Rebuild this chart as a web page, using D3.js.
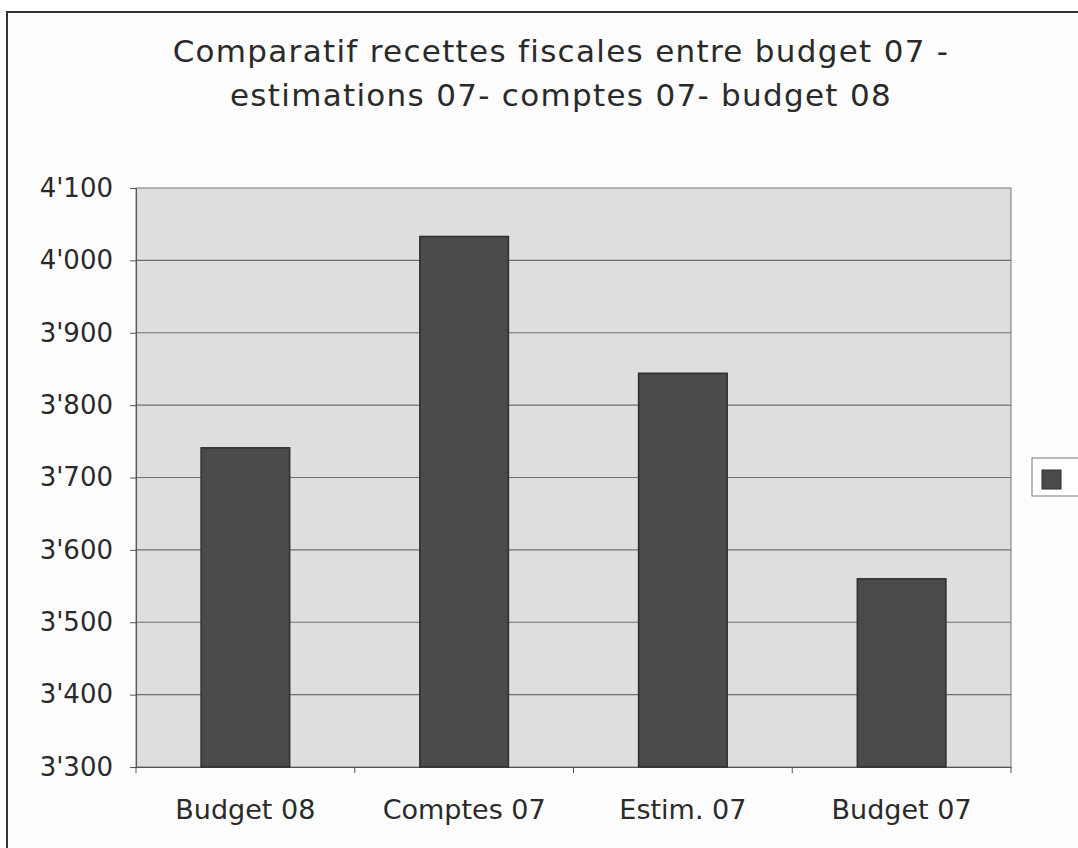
<!DOCTYPE html>
<html>
<head>
<meta charset="utf-8">
<script src="https://cdn.jsdelivr.net/npm/d3@7"></script>
<style>
    body { margin: 0; background: #fff; }
    #chart { width: 1078px; height: 848px; }
    text { font-family: "DejaVu Sans", Verdana, sans-serif; fill: #2a2a2a; }
</style>
</head>
<body>
<div id="chart"></div>
<script>
//Datos
const categorias = ['Budget 08', 'Comptes 07', 'Estim. 07', 'Budget 07'];
const valores = [3741, 4033, 3844, 3560];
const ticksY = [3300, 3400, 3500, 3600, 3700, 3800, 3900, 4000, 4100];
const titulo = ['Comparatif recettes fiscales entre budget 07 -', 'estimations 07- comptes 07- budget 08'];

//Colores
const COLOR_BAR = '#4a4a4a',
    COLOR_BAR_STROKE = '#2e2e2e',
    COLOR_PLOT = '#dedede',
    COLOR_GRID = '#6e6e6e';

let margin = {top: 188, right: 67, bottom: 81, left: 136},
    width = 1078 - margin.left - margin.right,
    height = 848 - margin.top - margin.bottom;

let svgRoot = d3.select('#chart')
    .append('svg')
        .attr('width', 1078)
        .attr('height', 848);

//Marco exterior
svgRoot.append('rect')
    .attr('x', 7)
    .attr('y', 12)
    .attr('width', 1080)
    .attr('height', 850)
    .attr('fill', '#fdfdfd')
    .attr('stroke', '#333')
    .attr('stroke-width', 2);

//Título
svgRoot.append('text')
    .attr('text-anchor', 'middle')
    .attr('font-size', '31px')
    .attr('letter-spacing', '1.3px')
    .selectAll('tspan')
    .data(titulo)
    .enter()
    .append('tspan')
        .attr('x', 561)
        .attr('y', function(d, i) { return 62 + i * 44; })
        .text(function(d) { return d; });

let svg = svgRoot.append('g')
    .attr('transform', 'translate(' + margin.left + ',' + margin.top + ')');

let x = d3.scaleBand()
    .domain(categorias)
    .range([0, width]);

let y = d3.scaleLinear()
    .domain([3300, 4100])
    .range([height, 0]);

//Fondo del área de gráfico
svg.append('rect')
    .attr('width', width)
    .attr('height', height)
    .attr('fill', COLOR_PLOT)
    .attr('stroke', '#8a8a8a')
    .attr('stroke-width', 1.2);

//Líneas de cuadrícula
svg.append('g')
    .selectAll('line')
    .data(ticksY.filter(function(d) { return d > 3300 && d < 4100; }))
    .enter()
    .append('line')
        .attr('x1', 0)
        .attr('x2', width)
        .attr('y1', function(d) { return y(d); })
        .attr('y2', function(d) { return y(d); })
        .attr('stroke', COLOR_GRID)
        .attr('stroke-width', 1.2);

//Eje Y
let yAxis = function(g) {
    g.call(d3.axisLeft(y).tickValues(ticksY).tickSize(6).tickPadding(17)
        .tickFormat(function(d) { return d3.format(',')(d).replace(',', "'"); }));
    g.call(function(g) { g.select('.domain').attr('stroke', '#555'); });
    g.call(function(g) { g.selectAll('.tick line').attr('stroke', '#555'); });
    g.call(function(g) { g.selectAll('.tick text').attr('font-size', '26px').attr('fill', '#2a2a2a'); });
};

svg.append('g')
    .attr('font-family', null)
    .call(yAxis);

//Eje X
let xAxis = function(g) {
    g.call(d3.axisBottom(x).tickSize(0).tickPadding(33));
    g.call(function(g) { g.select('.domain').attr('stroke', '#555'); });
    g.call(function(g) { g.selectAll('.tick text').attr('font-size', '27px').attr('fill', '#2a2a2a'); });
};

svg.append('g')
    .attr('font-family', null)
    .attr('transform', 'translate(0,' + height + ')')
    .call(xAxis);

//Marcas entre categorías
svg.append('g')
    .selectAll('line')
    .data(categorias.concat(['fin']))
    .enter()
    .append('line')
        .attr('x1', function(d, i) { return i * x.step(); })
        .attr('x2', function(d, i) { return i * x.step(); })
        .attr('y1', height)
        .attr('y2', height + 6)
        .attr('stroke', '#555');

//Barras
let anchoBarra = x.bandwidth() * 0.405;

svg.selectAll('.bar')
    .data(valores)
    .enter()
    .append('rect')
        .attr('class', 'bar')
        .attr('x', function(d, i) { return x(categorias[i]) + (x.bandwidth() - anchoBarra) / 2; })
        .attr('y', function(d) { return y(d); })
        .attr('width', anchoBarra)
        .attr('height', function(d) { return height - y(d); })
        .attr('fill', COLOR_BAR)
        .attr('stroke', COLOR_BAR_STROKE)
        .attr('stroke-width', 1.5);

//Leyenda
let legend = svgRoot.append('g')
    .attr('transform', 'translate(1032,458)');

legend.append('rect')
    .attr('width', 48)
    .attr('height', 38)
    .attr('fill', '#fff')
    .attr('stroke', '#777');

legend.append('rect')
    .attr('x', 10)
    .attr('y', 12)
    .attr('width', 19)
    .attr('height', 19)
    .attr('fill', COLOR_BAR)
    .attr('stroke', COLOR_BAR_STROKE);
</script>
</body>
</html>
